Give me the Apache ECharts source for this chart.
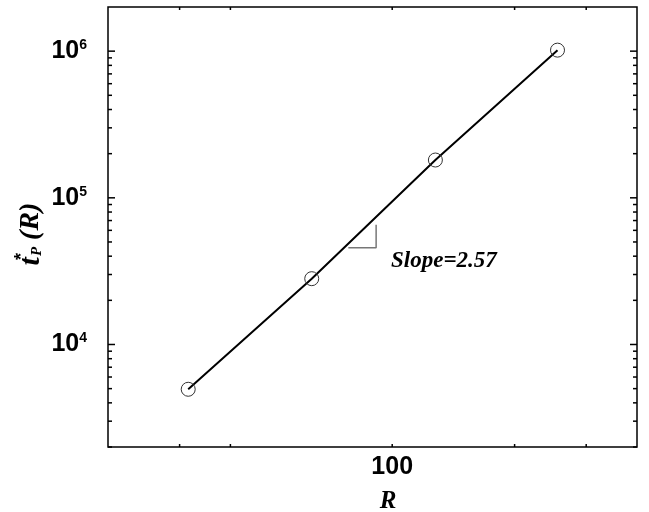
<!DOCTYPE html>
<html>
<head>
<meta charset="utf-8">
<script src="https://cdn.jsdelivr.net/npm/echarts@6/dist/echarts.min.js"></script>
<style>html,body{margin:0;padding:0;background:#fff}#c{width:649px;height:512px}</style>
</head>
<body>
<div id="c"></div>
<script>
// ---- data ----
var R_values = [31.5, 63.4, 127.7, 255];
var tP_values = [4950, 28100, 181000, 1016000];
var xTickValues = [30, 40, 100, 200, 300];
var yMajorTicks = [10000, 100000, 1000000];
var yMinorTicks = [2000, 3000, 4000, 5000, 6000, 7000, 8000, 9000,
                   20000, 30000, 40000, 50000, 60000, 70000, 80000, 90000,
                   200000, 300000, 400000, 500000, 600000, 700000, 800000, 900000];
var slopeTriX = [78, 91.3, 91.3];
var slopeTriY = [45700, 45700, 65500];
var slopeText = 'Slope=2.57';
var yTitle = '{t|t}{a|*}{p|P}{r| (R)}';
var X_MIN = 20, X_MAX = 400, Y_MIN = 2000, Y_MAX = 2000000;

var chart = echarts.init(document.getElementById('c'), null, {renderer: 'canvas'});

function yTickRenderer(len) {
  return function (params, api) {
    var cs = params.coordSys;
    var y = api.coord([api.value(0), api.value(1)])[1];
    var st = {stroke: '#000', lineWidth: 1.5};
    return {type: 'group', children: [
      {type: 'line', shape: {x1: cs.x, y1: y, x2: cs.x + len, y2: y}, style: st},
      {type: 'line', shape: {x1: cs.x + cs.width, y1: y, x2: cs.x + cs.width - len, y2: y}, style: st}
    ]};
  };
}
function xTickRenderer(len) {
  return function (params, api) {
    var cs = params.coordSys;
    var x = api.coord([api.value(0), api.value(1)])[0];
    var st = {stroke: '#000', lineWidth: 1.5};
    return {type: 'group', children: [
      {type: 'line', shape: {x1: x, y1: cs.y, x2: x, y2: cs.y + len}, style: st},
      {type: 'line', shape: {x1: x, y1: cs.y + cs.height, x2: x, y2: cs.y + cs.height - len}, style: st}
    ]};
  };
}
function isPow10(v) {
  var l = Math.log10(v);
  return Math.abs(l - Math.round(l)) < 1e-6;
}

var sans = 'Arial';
var serif = '"Liberation Serif"';

chart.setOption({
  animation: false,
  backgroundColor: '#fff',
  grid: {left: 108, top: 7, right: 12, bottom: 65, containLabel: false, outerBoundsMode: 'none',
         show: true, borderColor: '#000', borderWidth: 1.5, backgroundColor: 'transparent'},
  xAxis: {
    type: 'log', logBase: 10, min: X_MIN, max: X_MAX,
    axisLine: {show: false}, axisTick: {show: false}, splitLine: {show: false},
    axisLabel: {
      margin: 8, color: '#000', fontFamily: sans, fontWeight: 'bold', fontSize: 25,
      formatter: function (v) { return isPow10(v) ? String(Math.round(v)) : ''; }
    },
    name: 'R', nameLocation: 'middle', nameGap: 42,
    nameTextStyle: {fontFamily: serif, fontStyle: 'italic', fontWeight: 'bold', fontSize: 25, color: '#000',
                    padding: [0, 0, 0, 31]}
  },
  yAxis: {
    type: 'log', logBase: 10, min: Y_MIN, max: Y_MAX,
    axisLine: {show: false}, axisTick: {show: false}, splitLine: {show: false},
    axisLabel: {
      margin: 21, color: '#000',
      formatter: function (v) {
        if (!isPow10(v)) return '';
        return '{b|10}{s|' + Math.round(Math.log10(v)) + '}';
      },
      rich: {
        b: {fontFamily: sans, fontWeight: 'bold', fontSize: 25, color: '#000'},
        s: {fontFamily: sans, fontWeight: 'bold', fontSize: 14, color: '#000', verticalAlign: 'top', padding: [0, 0, 12, 0]}
      }
    }
  },
  graphic: [
    {
      type: 'text', left: 391, top: 250, z: 10,
      style: {text: slopeText, font: 'italic bold 23px ' + serif, fill: '#000'}
    },
    {
      type: 'text', x: 31, y: 234, rotation: Math.PI / 2, z: 10,
      style: {
        text: yTitle, align: 'center', verticalAlign: 'middle', fill: '#000',
        rich: {
          t: {fontFamily: serif, fontStyle: 'italic', fontWeight: 'bold', fontSize: 30, fill: '#000'},
          a: {fontFamily: sans, fontWeight: 'bold', fontSize: 18, fill: '#000', width: 1, padding: [0, 0, 18, 0]},
          p: {fontFamily: serif, fontStyle: 'italic', fontWeight: 'bold', fontSize: 15, fill: '#000', padding: [12, 0, 0, 0]},
          r: {fontFamily: serif, fontStyle: 'italic', fontWeight: 'bold', fontSize: 28, fill: '#000'}
        }
      }
    }
  ],
  series: [
    {
      type: 'line', data: R_values.map(function (r, i) { return [r, tP_values[i]]; }),
      symbol: 'circle', symbolSize: 14, showSymbol: true,
      lineStyle: {color: '#000', width: 2},
      itemStyle: {color: 'rgba(0,0,0,0)', borderColor: '#333', borderWidth: 1},
      z: 5
    },
    {
      type: 'line', data: slopeTriX.map(function (x, i) { return [x, slopeTriY[i]]; }),
      symbol: 'none', lineStyle: {color: '#777', width: 1.5}, z: 4
    },
    {
      type: 'custom', clip: false, renderItem: yTickRenderer(7),
      data: yMajorTicks.map(function (v) { return [X_MIN, v]; }), z: 3
    },
    {
      type: 'custom', clip: false, renderItem: yTickRenderer(4),
      data: yMinorTicks.map(function (v) { return [X_MIN, v]; }), z: 3
    },
    {
      type: 'custom', clip: false, renderItem: xTickRenderer(3),
      data: xTickValues.map(function (v) { return [v, Y_MIN]; }), z: 3
    }
  ]
});
</script>
</body>
</html>
